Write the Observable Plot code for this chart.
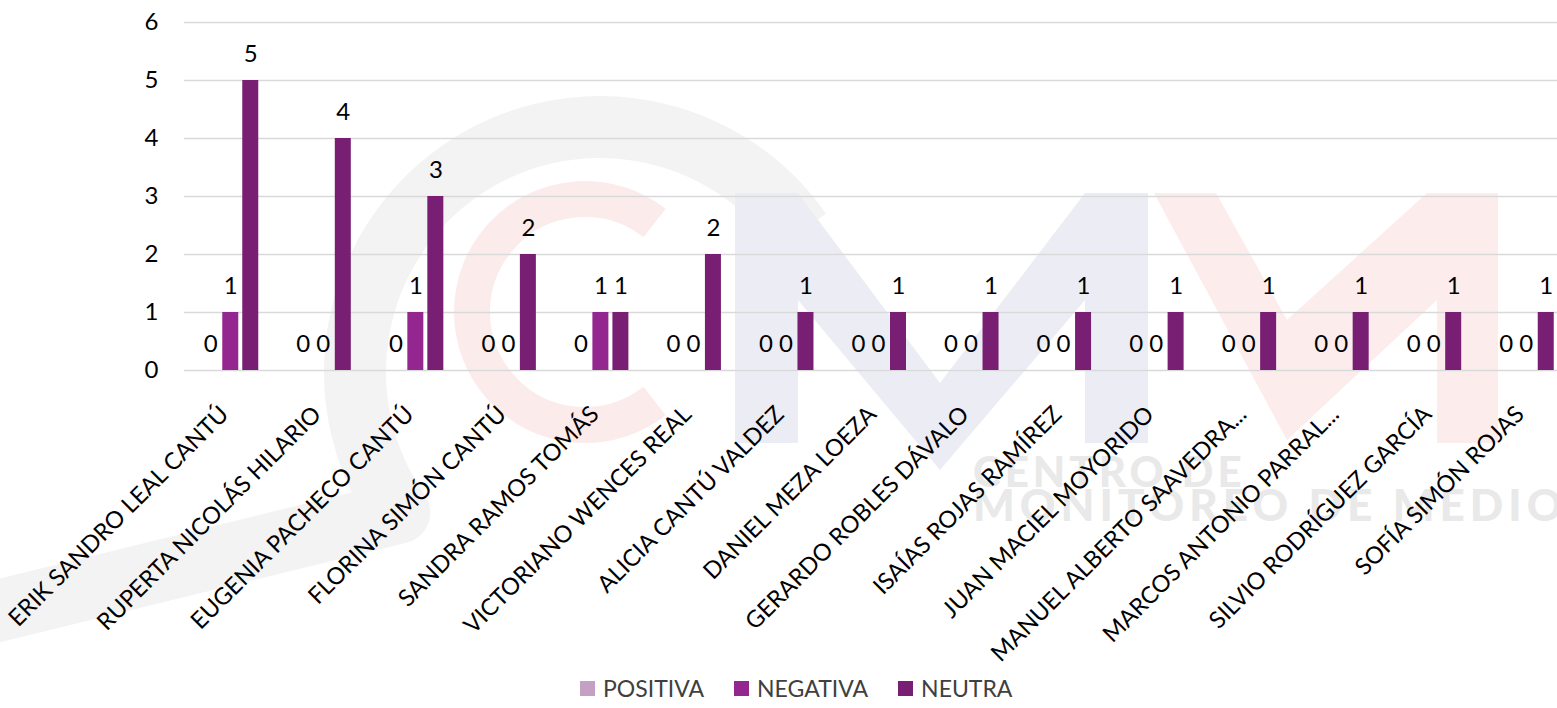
<!DOCTYPE html>
<html><head><meta charset="utf-8">
<script src="https://cdn.jsdelivr.net/npm/d3@7"></script>
<script src="https://cdn.jsdelivr.net/npm/@observablehq/plot@0.6"></script>
<style>
body{margin:0;background:#fff;overflow:hidden;font-family:Lato,"Open Sans",sans-serif;}
#wrap{position:relative;width:1557px;height:708px;overflow:hidden;}
#wm{position:absolute;left:0;top:0;}
#chart{position:absolute;left:0;top:0;}
#legend{position:absolute;left:580px;top:674px;display:flex;align-items:center;font-size:23px;color:#404040;white-space:nowrap;}
#legend .item{display:flex;align-items:center;margin-right:30px;}
#legend .sw{width:15px;height:15px;margin-right:8px;display:inline-block;}
</style>
</head><body><div id="wrap">
<svg id="wm" width="1557" height="708" aria-hidden="true">
  <path id="ring" fill="none" stroke="#f3f3f3" stroke-width="62" stroke-linejoin="round"/>
  <path id="pinkc" fill="none" stroke="#fcebeb" stroke-width="36"/>
  <polygon fill="#ececf4" points="735,193 798,193 940,383 1085,193 1148,193 1148,443 1085,443 1085,300 940,470 798,300 798,443 735,443"/>
  <polygon fill="#fcecec" points="1154,193 1216,193 1287,320 1427,193 1498,193 1498,443 1437,443 1437,300 1287,440"/>
  <text x="973" y="487" font-size="42" font-weight="900" fill="#e9e9e9" font-family="Lato, sans-serif" letter-spacing="4">CENTRO DE</text>
  <text x="973" y="521" font-size="44" font-weight="900" fill="#e9e9e9" font-family="Lato, sans-serif" letter-spacing="5">MONITOREO DE MEDIOS</text>
</svg>
<div id="chart"></div><div id="legend"></div></div>
<script>
const names = ["ERIK SANDRO LEAL CANTÚ","RUPERTA NICOLÁS HILARIO","EUGENIA PACHECO CANTÚ","FLORINA SIMÓN CANTÚ","SANDRA RAMOS TOMÁS","VICTORIANO WENCES REAL","ALICIA CANTÚ VALDEZ","DANIEL MEZA LOEZA","GERARDO ROBLES DÁVALO","ISAÍAS ROJAS RAMÍREZ","JUAN MACIEL MOYORIDO","MANUEL ALBERTO SAAVEDRA...","MARCOS ANTONIO PARRAL...","SILVIO RODRÍGUEZ GARCÍA","SOFÍA SIMÓN ROJAS"];
const positiva = [0,0,0,0,0,0,0,0,0,0,0,0,0,0,0];
const negativa = [1,0,1,0,1,0,0,0,0,0,0,0,0,0,0];
const neutra   = [5,4,3,2,1,2,1,1,1,1,1,1,1,1,1];
const series = ["POSITIVA","NEGATIVA","NEUTRA"];
const colors = ["#c4a0c4","#93278f","#781f73"];
const yTicks = [0,1,2,3,4,5,6];

// watermark arcs (background decoration)
function arcPath(cx, cy, r, a0, a1) {
  const p = a => [cx + r * Math.cos(a * Math.PI / 180), cy + r * Math.sin(a * Math.PI / 180)];
  const [x0, y0] = p(a0), [x1, y1] = p(a1);
  const large = Math.abs(a1 - a0) > 180 ? 1 : 0;
  return `M${x0},${y0} A${r},${r} 0 ${large} 0 ${x1},${y1}`;
}
document.getElementById("ring").setAttribute("d", arcPath(600, 372, 245, -35, -215) + " L-60,625");
document.getElementById("pinkc").setAttribute("d", arcPath(585, 312, 113, -52, -308));

const values = [positiva, negativa, neutra];
const W = 1557, ML = 184, MR = -15;
const bw = (W - ML - MR) / names.length;
const barW = 16, step = 20;

const marks = [Plot.ruleY(yTicks, {stroke: "#d9d9d9", strokeWidth: 1.5})];
series.forEach((s, i) => {
  const rows = names.map((n, j) => ({name: n, value: values[i][j], series: s}));
  const center = bw / 2 + (i - 1) * step;
  marks.push(Plot.barY(rows, {x: "name", y: "value", fill: colors[i],
    insetLeft: center - barW / 2, insetRight: bw - center - barW / 2}));
  marks.push(Plot.text(rows, {x: "name", y: "value", text: d => String(d.value),
    dx: (i - 1) * step, dy: -26, fontSize: 24, fill: "#000"}));
});

const chart = Plot.plot({
  width: W, height: 650,
  marginLeft: ML, marginRight: MR, marginTop: 22, marginBottom: 280,
  style: {fontFamily: "Lato, 'Open Sans', sans-serif", background: "transparent", overflow: "visible"},
  x: {domain: names, padding: 0, round: false, label: null},
  y: {domain: [0, 6], label: null},
  marks: [
    ...marks,
    Plot.axisY({ticks: yTicks, tickSize: 0, tickPadding: 26, fontSize: 24, label: null, tickFormat: d => d, fill: "#000"}),
    Plot.axisX({tickSize: 0, tickRotate: -45, tickPadding: 40, fontSize: 23.5, label: null, fill: "#000", dx: -6})
  ]
});
document.getElementById("chart").appendChild(chart);

const leg = document.getElementById("legend");
series.forEach((s, i) => {
  const it = document.createElement("span");
  it.className = "item";
  it.innerHTML = `<span class="sw" style="background:${colors[i]}"></span><span>${s}</span>`;
  leg.appendChild(it);
});
</script></body></html>
